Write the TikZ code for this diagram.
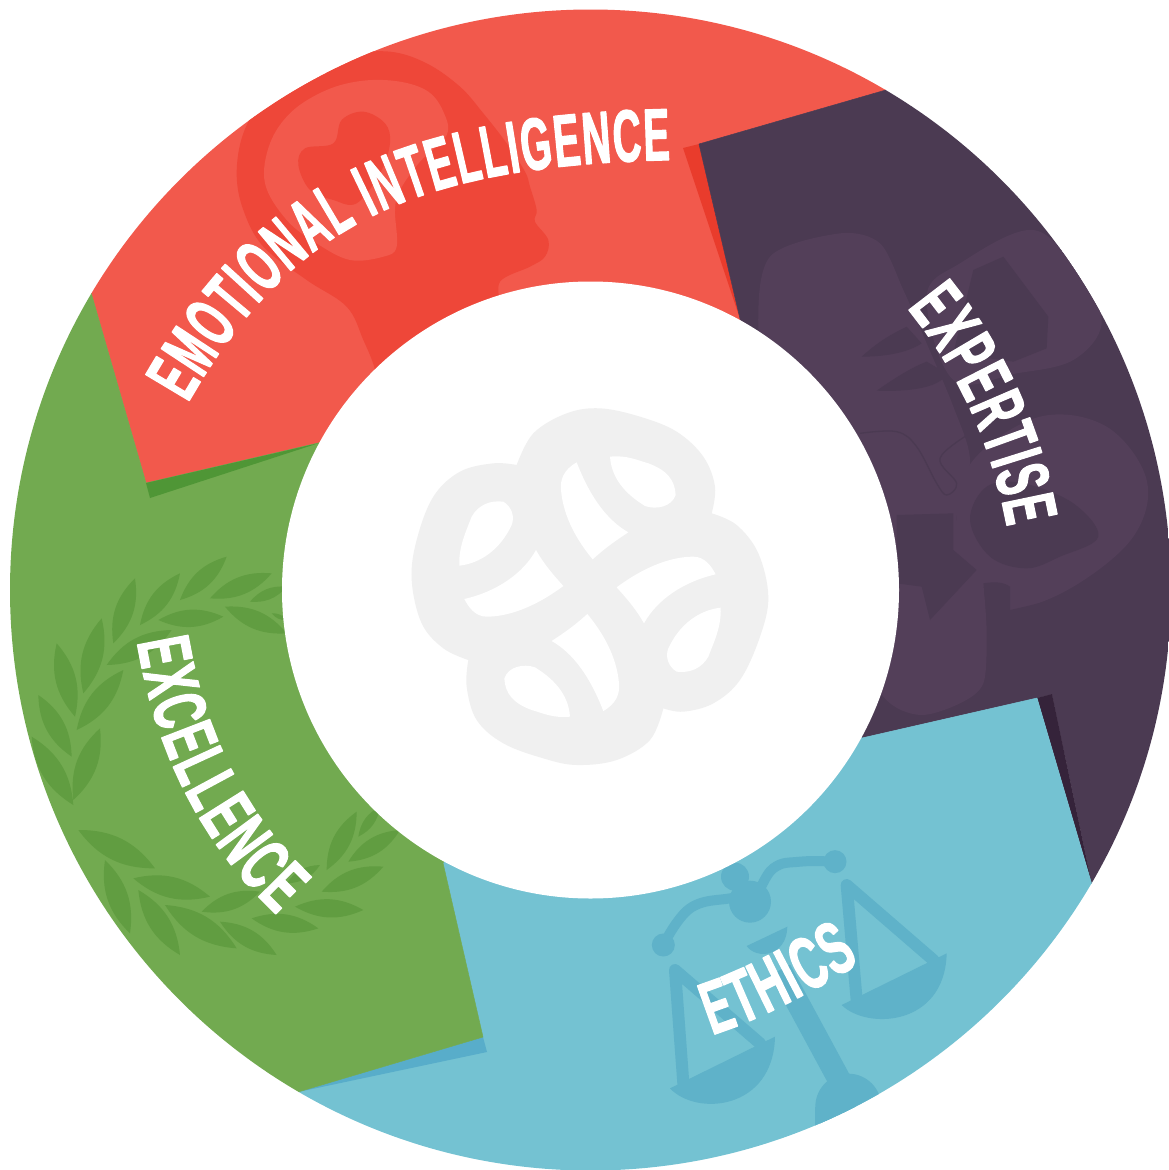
\documentclass[tikz,border=0pt]{standalone}
\usepackage{fontspec}
\usetikzlibrary{decorations.text}
\newfontfamily\capsA[FakeStretch=0.53,FakeBold=1.5]{Liberation Sans}
\newfontfamily\capsB[FakeStretch=0.54,FakeBold=1.5]{Liberation Sans}
\newfontfamily\capsC[FakeStretch=0.575,FakeBold=1.5]{Liberation Sans}
\newcommand{\labelA}{\capsA\bfseries\fontsize{74}{80}\selectfont\color{white}}
\newcommand{\labelB}{\capsB\bfseries\fontsize{75}{80}\selectfont\color{white}}
\newcommand{\labelC}{\capsC\bfseries\fontsize{75}{80}\selectfont\color{white}}
\definecolor{redbase}{HTML}{F2594C}
\definecolor{redicon}{HTML}{EE4739}
\definecolor{redfold}{HTML}{E93C2C}
\definecolor{purplebase}{HTML}{4B3A52}
\definecolor{purpleicon}{HTML}{533F59}
\definecolor{purplefold}{HTML}{35233A}
\definecolor{bluebase}{HTML}{74C2D2}
\definecolor{blueicon}{HTML}{5FB2C9}
\definecolor{bluefold}{HTML}{58ADCA}
\definecolor{greenbase}{HTML}{72AA50}
\definecolor{greenicon}{HTML}{619D41}
\definecolor{greenfold}{HTML}{4F9636}
\definecolor{logogrey}{HTML}{F0F0F0}
\newcommand{\leafat}[2]{\fill[greenicon] (#1) to[bend left=27] (#2) to[bend left=27] (#1);}
\newcommand{\logoholes}{%
 \fill[white] (630,170) .. controls (680,165) and (710,180) .. (745,190) .. controls (800,210) and (825,240) .. (827,285) .. controls (815,320) and (770,330) .. (735,318) .. controls (690,290) and (635,245) .. (630,170) -- cycle;
 \fill[white] (530,187) .. controls (490,210) and (480,240) .. (483,270) .. controls (490,350) and (530,420) .. (578,478) .. controls (620,440) and (650,420) .. (685,397) .. controls (620,360) and (570,290) .. (530,187) -- cycle;
 \fill[white] (178,497) .. controls (175,440) and (200,390) .. (215,350) .. controls (235,315) and (270,300) .. (310,305) .. controls (335,320) and (345,350) .. (335,375) .. controls (300,450) and (240,490) .. (178,497) -- cycle;
 \fill[white] (193,597) .. controls (290,575) and (370,520) .. (408,450) .. controls (430,490) and (460,525) .. (490,558) .. controls (400,625) and (320,650) .. (260,650) .. controls (225,650) and (205,620) .. (193,597) -- cycle;
}
\begin{document}
\begin{tikzpicture}[x=1pt,y=-1pt,line join=round]
\useasboundingbox (0,0) rectangle (1168,1170);
\begin{scope}
\clip (590.5,590) circle[radius=580.5pt];
% red
\fill[redbase,draw=redbase,line width=.5pt] (146,483) -- (60,185) -- (200,-50) -- (600,-50) -- (1000,57) -- (699,144) -- (745,340) -- (590,590) -- (400,424) -- cycle;
\begin{scope}
\clip (146,483) -- (60,185) -- (200,-50) -- (600,-50) -- (1000,57) -- (699,144) -- (745,340) -- (590,590) -- (400,424) -- cycle;
\begin{scope}[shift={(220,40)},x=.33333pt,y=-.33333pt]
\fill[redicon] plot[smooth,tension=.6] coordinates {(480,1100)(465,990)(430,900)(380,800)(260,720)(130,620)(70,510)(50,400)(70,280)(130,180)(240,90)(380,45)(510,35)(620,70)(720,140)(790,220)(860,310)(915,395)(930,440)(950,510)(945,545)(985,600)(975,650)(930,680)(840,725)(845,800)} -- cycle;
\fill[redbase] plot[smooth cycle,tension=.6] coordinates {(135,430)(150,310)(215,215)(320,150)(430,122)(540,125)(625,155)(670,215)(680,285)(600,365)(540,450)(525,510)(530,620)(490,650)(390,660)(290,610)(200,540)};
\fill[redicon] plot[smooth cycle,tension=.6] coordinates {(235,375)(255,325)(340,310)(365,240)(430,215)(495,250)(510,310)(480,400)(410,490)(340,480)(270,450)};
\end{scope}
\end{scope}
\fill[redfold] (683,148) -- (699,144) -- (740,319) -- cycle;
% purple
\fill[purplebase,draw=purplebase,line width=.5pt] (699,144) -- (1000,57) -- (1300,500) -- (1130,1067) -- (1092,885) -- (1052,694) -- (1037,698) -- (862,738) -- (700,775) -- (590,590) -- (745,340) -- cycle;
\begin{scope}
\clip (699,144) -- (1000,57) -- (1300,500) -- (1130,1067) -- (1092,885) -- (1052,694) -- (1037,698) -- (862,738) -- (700,775) -- (590,590) -- (745,340) -- cycle;
\begin{scope}[shift={(740,220)},x=.33333pt,y=-.33333pt]
\fill[purpleicon] plot[smooth cycle,tension=.5] coordinates {(55,330)(90,110)(300,40)(420,70)(490,210)(560,370)(640,560)(690,720)(650,900)(720,1000)(730,1090)(740,1240)(730,1390)(660,1450)(540,1485)(430,1430)(300,1200)(100,700)};
\fill[purpleicon] plot[smooth cycle,tension=.6] coordinates {(560,230)(660,130)(880,30)(1020,170)(1085,310)(1000,420)(830,460)(640,480)};
\fill[purpleicon] plot[smooth cycle,tension=.6] coordinates {(650,900)(700,720)(900,590)(1100,620)(1220,780)(1180,950)(1000,1100)(810,1170)(730,1100)};
\fill[purplebase] (700,150) -- (790,110) -- (925,290) -- (920,385) -- (820,425) -- (640,400) -- cycle;
\fill[purplebase] (365,410) .. controls (420,360) and (460,340) .. (500,320) -- (545,370) .. controls (500,400) and (430,410) .. (365,410) -- cycle;
\fill[purplebase] (410,512) .. controls (470,470) and (520,440) .. (560,425) -- (620,460) .. controls (600,510) and (480,515) .. (410,512) -- cycle;
\draw[purplebase,line width=1.3pt] plot[smooth,tension=.6] coordinates {(360,640)(470,635)(530,680)(590,790)(620,825)(650,790)(600,715)(690,640)};
\fill[purplebase] (470,885) -- (640,880) -- (640,990) -- (710,1050) -- (570,1200) -- (545,1100) -- (470,1090) -- cycle;
\fill[purplebase] plot[smooth cycle,tension=.6] coordinates {(690,900)(740,800)(850,790)(1000,850)(1075,950)(960,1010)(860,1045)(750,1010)};
\fill[purplebase] (730,1090) .. controls (760,1085) and (790,1085) .. (810,1100) -- (810,1170) .. controls (900,1150) and (1000,1130) .. (1100,1040) -- (1300,1100) -- (1100,1600) -- (800,1600) -- (760,1300) -- cycle;
\end{scope}
\end{scope}
\fill[purplefold] (1037,698) -- (1052,694) -- (1092,885) -- cycle;
% blue
\fill[bluebase,draw=bluebase,line width=.5pt] (1037,698) -- (1092,885) -- (1130,1067) -- (700,1300) -- (200,1300) -- (298,1092) -- (483,1037) -- (443,863) -- (590,590) -- (862,738) -- cycle;
\begin{scope}
\clip (1037,698) -- (1092,885) -- (1130,1067) -- (700,1300) -- (200,1300) -- (298,1092) -- (483,1037) -- (443,863) -- (590,590) -- (862,738) -- cycle;
\begin{scope}[shift={(640,840)},x=.33333pt,y=-.33333pt]
\draw[blueicon,line width=10pt,line cap=round] plot[smooth,tension=.7] coordinates {(70,315)(150,205)(270,175)(340,170)(400,85)(480,65)(585,65)};
\fill[blueicon] (70,315) circle[radius=11.5pt];
\fill[blueicon] (585,65) circle[radius=11.5pt];
\fill[blueicon] (330,185) circle[radius=21pt];
\fill[blueicon] (285,110) circle[radius=14pt];
\draw[blueicon,line width=23pt] (420,390) -- (620,760);
\fill[blueicon] (320,318) .. controls (350,360) and (440,350) .. (442,260) -- cycle;
\fill[blueicon] (625,800) circle[radius=33pt];
\fill[blueicon] (525,800) rectangle (730,950);
\draw[blueicon,line width=12pt,line cap=round,line join=round] (130,730) -- (105,390) -- (360,610);
\fill[blueicon] (90,745) .. controls (170,830) and (400,810) .. (405,590) -- cycle;
\draw[blueicon,line width=12pt,line cap=round,line join=round] (650,480) -- (620,135) -- (880,360);
\fill[blueicon] (605,495) .. controls (680,570) and (915,560) .. (920,340) -- cycle;
\end{scope}
\end{scope}
\fill[bluefold] (483,1037) -- (487,1052) -- (298,1092) -- cycle;
% green
\fill[greenbase,draw=greenbase,line width=.5pt] (146,483) -- (60,185) -- (-100,400) -- (-100,900) -- (200,1300) -- (298,1092) -- (483,1037) -- (443,863) -- (590,590) -- (400,424) -- cycle;
\begin{scope}
\clip (146,483) -- (60,185) -- (-100,400) -- (-100,900) -- (200,1300) -- (298,1092) -- (483,1037) -- (443,863) -- (590,590) -- (400,424) -- cycle;
\begin{scope}[shift={(20,550)},x=.33333pt,y=-.33333pt]
\leafat{160,765}{35,560}\leafat{240,535}{160,750}\leafat{55,435}{155,620}
\leafat{310,360}{170,540}\leafat{110,280}{165,500}\leafat{245,205}{190,430}
\leafat{455,240}{260,345}\leafat{345,85}{280,280}\leafat{480,70}{360,225}
\leafat{610,200}{415,210}\leafat{620,20}{480,150}\leafat{755,70}{570,145}
\leafat{800,250}{615,170}\leafat{800,110}{690,155}\leafat{800,210}{755,190}
\leafat{405,955}{175,840}\leafat{255,930}{330,1150}\leafat{570,1040}{340,985}
\leafat{355,1020}{480,1215}\leafat{650,1195}{435,1065}\leafat{720,1025}{545,1085}
\leafat{770,1215}{600,1115}\leafat{895,1135}{695,1105}\leafat{1030,1080}{825,1070}
\leafat{1090,950}{905,1025}\leafat{1010,785}{920,960}\leafat{1140,840}{985,935}
\leafat{1080,770}{1015,860}\leafat{900,945}{800,1000}
\end{scope}
\end{scope}
\fill[greenfold] (146,483) -- (150,498) -- (319,443) -- cycle;
\end{scope}
% centre
\fill[white] (590.5,590) circle[radius=308.5pt];
\begin{scope}[shift={(400,400)},x=.33333pt,y=-.33333pt]
\fill[logogrey] plot[smooth,tension=.6] coordinates {(350,195)(400,100)(500,40)(600,25)(720,50)(830,95)(910,170)(945,260)(935,340)}
 -- plot[smooth,tension=.6] coordinates {(935,340)(1010,375)(1075,460)(1105,590)(1080,710)(1020,840)(940,910)(850,935)(790,925)}
 -- plot[smooth,tension=.6] coordinates {(790,925)(750,1020)(650,1080)(530,1095)(430,1075)(310,1030)(230,960)(200,860)(205,780)}
 -- plot[smooth,tension=.6] coordinates {(205,780)(130,745)(65,670)(35,540)(50,420)(100,290)(180,215)(280,190)(350,195)} -- cycle;
\logoholes
\begin{scope}[rotate around={180:(570,560)}]
\logoholes
\end{scope}
\end{scope}
% labels
\path[decorate,decoration={text along path,text align={fit to path},text={|\labelA|EMOTIONAL INTELLIGENCE}}] (188,403) .. controls (290,226) and (410,166) .. (670,160);
\path[decorate,decoration={text along path,text align={fit to path},text={|\labelB|EXPERTISE}}] (907,308) .. controls (959,372) and (992,445) .. (1007,527);
\path[decorate,decoration={text along path,text align={fit to path},text={|\labelC|EXCELLENCE}}] (137,642) .. controls (156,755) and (203,845) .. (277,915);
\path[decorate,decoration={text along path,text align={fit to path},text={|\labelC|ETHICS}}] (712,1035) .. controls (760,1020) and (815,990) .. (860,963);
\end{tikzpicture}
\end{document}
